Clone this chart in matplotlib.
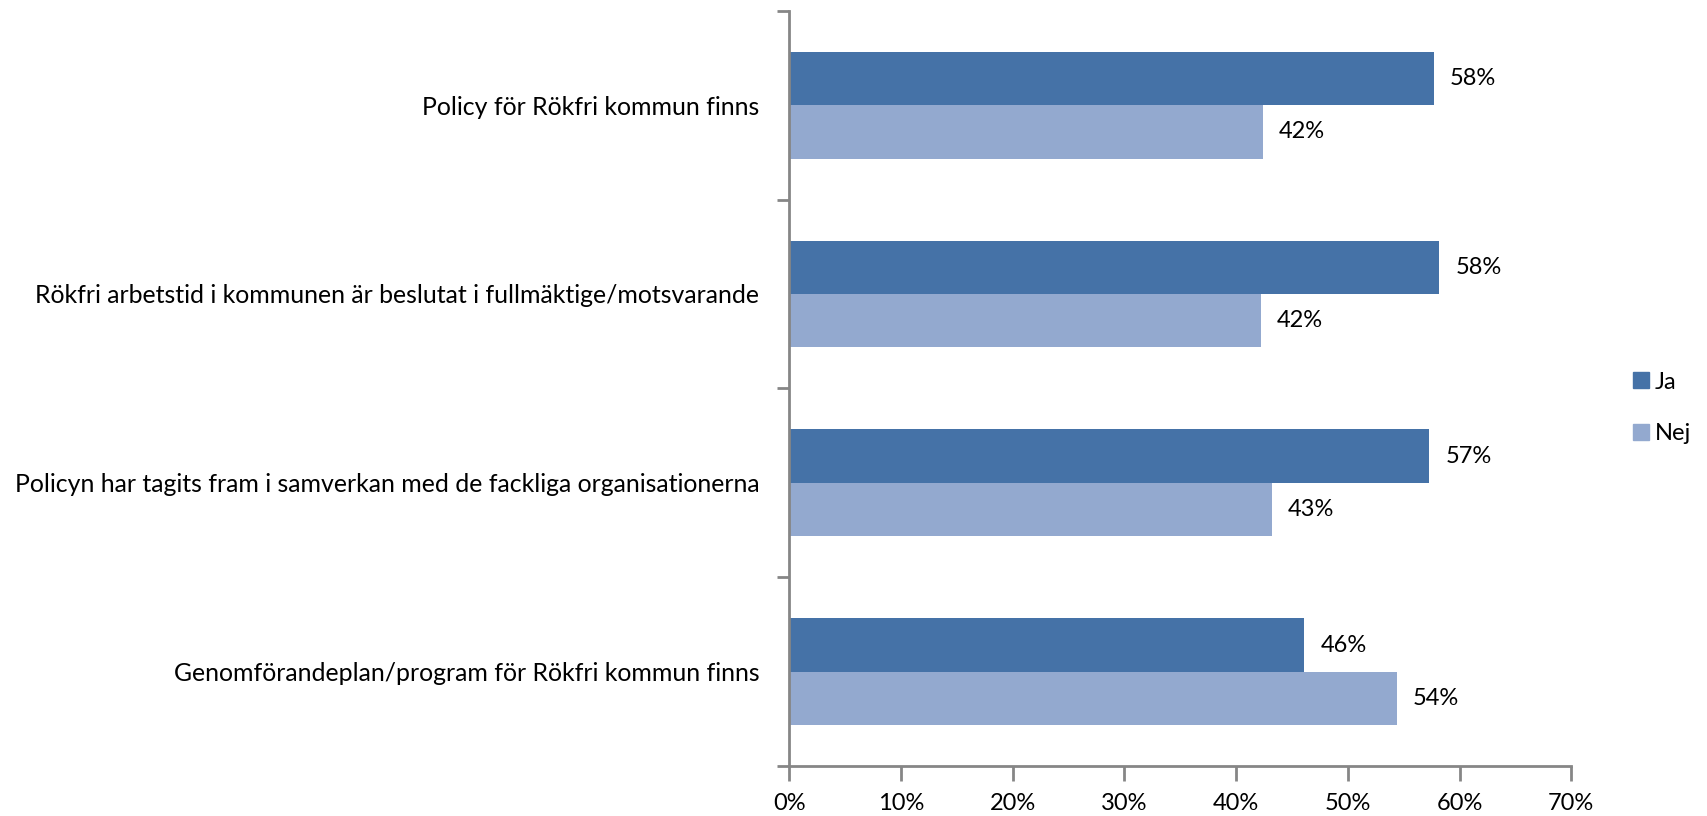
import matplotlib.pyplot as plt
import numpy as np
from matplotlib.patches import Patch

categories = [
    "Policy för Rökfri kommun finns",
    "Rökfri arbetstid i kommunen är beslutat i fullmäktige/motsvarande",
    "Policyn har tagits fram i samverkan med de fackliga organisationerna",
    "Genomförandeplan/program för Rökfri kommun finns",
]
ja = [57.7, 58.2, 57.3, 46.1]
nej = [42.4, 42.2, 43.2, 54.4]
series_names = ["Ja", "Nej"]
xticks = [0, 10, 20, 30, 40, 50, 60, 70]

col_ja = "#4572A7"
col_nej = "#93A9CF"
grey = "#868686"

plt.rcParams['font.family'] = ['Lato', 'DejaVu Sans']
fs = 17

fig = plt.figure(figsize=(17.08, 8.16), dpi=100)
ax = fig.add_axes([0.462, 0.061, 0.458, 0.926])

n = len(categories)
y = np.arange(n)
h = 0.283
ax.barh(y - h / 2, ja, height=h, color=col_ja)
ax.barh(y + h / 2, nej, height=h, color=col_nej)

# data labels
for i in range(n):
    ax.annotate(f"{round(ja[i])}%", (ja[i], y[i] - h / 2), xytext=(16, 0),
                textcoords="offset pixels", va="center", ha="left", fontsize=fs)
    ax.annotate(f"{round(nej[i])}%", (nej[i], y[i] + h / 2), xytext=(16, 0),
                textcoords="offset pixels", va="center", ha="left", fontsize=fs)

ax.set_xlim(0, 70)
ax.set_ylim(n - 0.5, -0.5)
ax.set_xticks(xticks)
ax.set_xticklabels([f"{t}%" for t in xticks], fontsize=fs)

# category labels between boundary ticks
ax.set_yticks(y)
ax.set_yticklabels(categories, fontsize=17.9)
ax.tick_params(axis="y", length=0, pad=21.5)
ax.set_yticks(np.arange(n + 1) - 0.5, minor=True)
ax.tick_params(axis="y", which="minor", length=9, width=2, color=grey)
ax.tick_params(axis="x", length=11, width=2, color=grey, pad=8)

for s in ["top", "right"]:
    ax.spines[s].set_visible(False)
for s in ["left", "bottom"]:
    ax.spines[s].set_color(grey)
    ax.spines[s].set_linewidth(2)

handles = [Patch(color=col_ja), Patch(color=col_nej)]
fig.legend(handles, series_names, loc="center left", bbox_to_anchor=(0.956, 0.5),
           frameon=False, fontsize=fs, handlelength=0.68, handleheight=0.68,
           handletextpad=0.25, labelspacing=1.3, borderpad=0, borderaxespad=0)

fig.savefig("out.png", dpi=100)
